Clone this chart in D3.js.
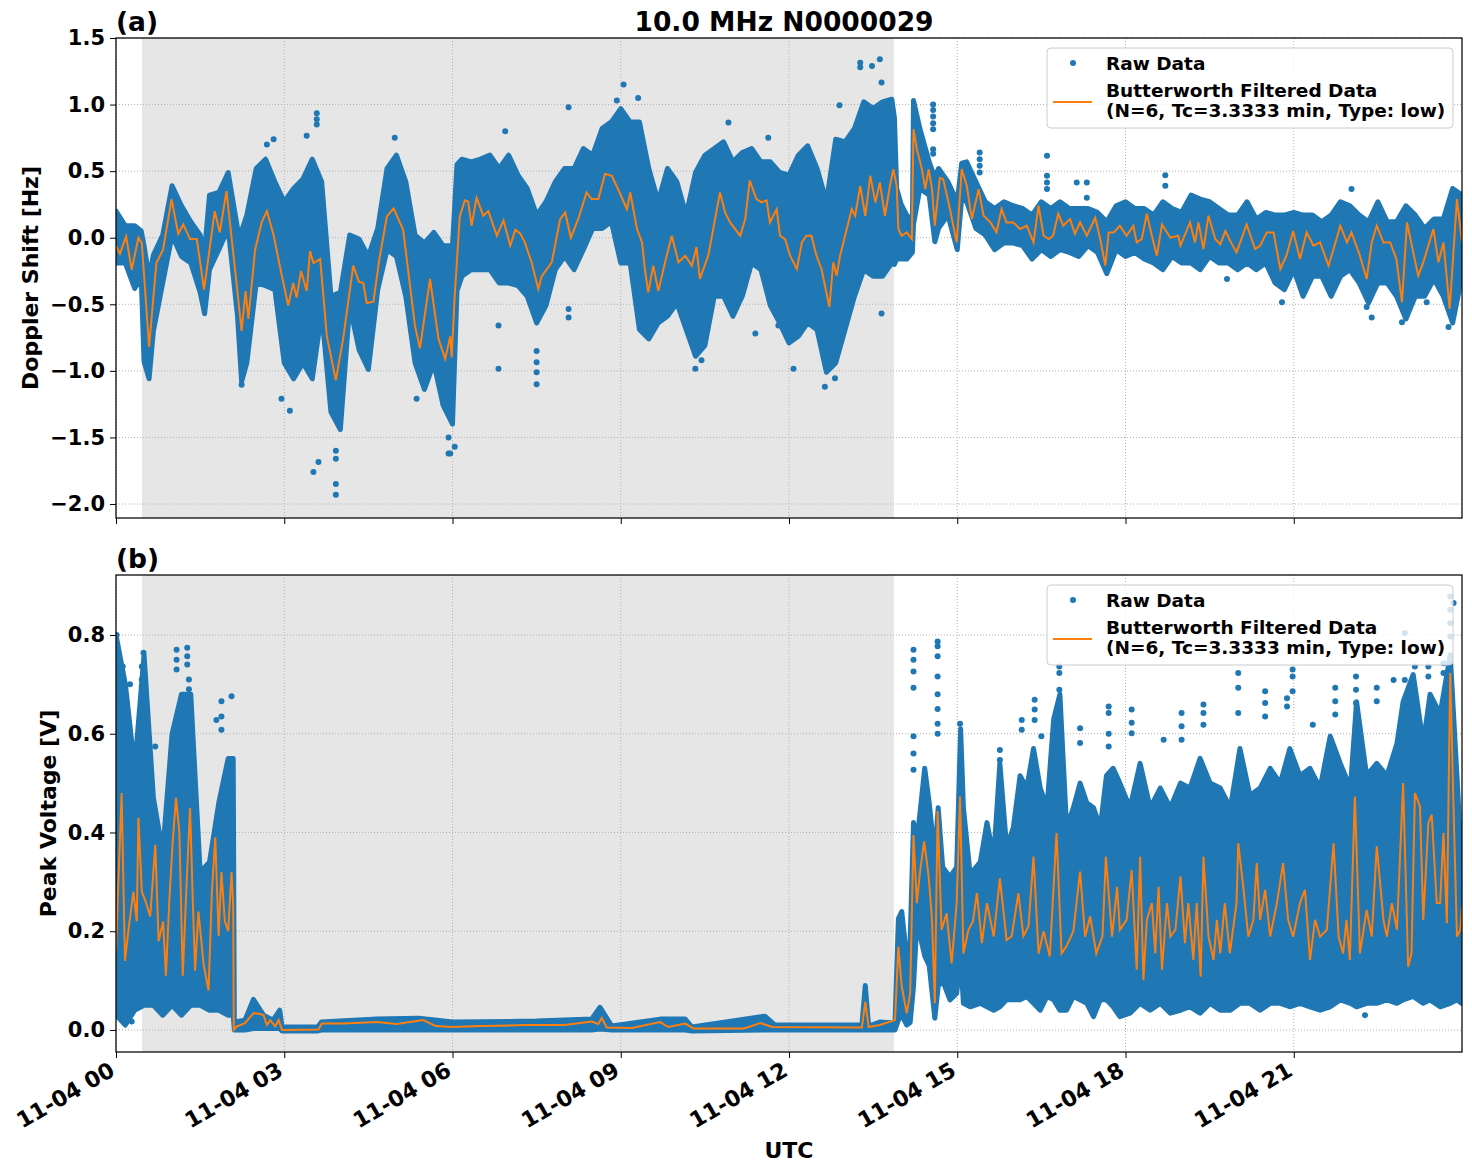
<!DOCTYPE html>
<html>
<head>
<meta charset="utf-8">
<script src="https://cdn.jsdelivr.net/npm/d3@7"></script>
<style>
body { margin: 0; background: #fff; }
text { font-family: "DejaVu Sans", sans-serif; font-weight: bold; }
</style>
</head>
<body>
<svg id="chart" width="1472" height="1172"></svg>
<script>
// ---- axis / labels ----
const tickHours = [0, 3, 6, 9, 12, 15, 18, 21];
const tickLabels = ["11-04 00", "11-04 03", "11-04 06", "11-04 09", "11-04 12", "11-04 15", "11-04 18", "11-04 21"];
const dopTicks = [-2.0, -1.5, -1.0, -0.5, 0.0, 0.5, 1.0, 1.5];
const voltTicks = [0.0, 0.2, 0.4, 0.6, 0.8];
const nightStart = 0.463, nightEnd = 13.87;   // shaded span (hours UTC)

// ---- (a) Doppler shift: Butterworth filtered line (hour, Hz) ----
const dopFiltT = [0.0,0.07,0.18,0.28,0.40,0.46,0.59,0.72,0.84,0.99,1.11,1.20,1.32,1.44,1.57,1.76,1.85,1.97,2.09,2.24,2.31,2.36,2.48,2.60,2.69,2.81,2.92,3.07,3.16,3.22,3.30,3.40,3.46,3.52,3.64,3.76,3.92,4.05,4.23,4.33,4.41,4.47,4.59,4.70,4.83,4.95,5.12,5.33,5.42,5.60,5.75,5.87,5.96,5.985,6.04,6.13,6.22,6.28,6.34,6.43,6.55,6.64,6.79,6.91,7.03,7.12,7.21,7.29,7.41,7.53,7.59,7.77,7.92,8.01,8.11,8.25,8.39,8.48,8.60,8.72,8.84,8.99,9.11,9.17,9.29,9.38,9.43,9.49,9.58,9.67,9.79,9.91,10.03,10.15,10.27,10.35,10.41,10.56,10.62,10.77,10.86,10.95,11.04,11.13,11.22,11.30,11.42,11.51,11.60,11.66,11.78,11.84,11.93,12.02,12.14,12.23,12.31,12.40,12.49,12.58,12.72,12.79,12.85,12.91,13.00,13.12,13.18,13.27,13.36,13.45,13.54,13.62,13.71,13.80,13.86,13.92,13.95,14.01,14.10,14.19,14.22,14.28,14.37,14.43,14.49,14.55,14.60,14.69,14.75,14.87,14.99,15.08,15.17,15.26,15.38,15.47,15.59,15.70,15.79,15.88,16.00,16.12,16.24,16.36,16.45,16.54,16.63,16.71,16.80,16.89,17.01,17.10,17.19,17.31,17.46,17.55,17.64,17.70,17.79,17.90,18.02,18.14,18.20,18.29,18.38,18.47,18.56,18.65,18.80,18.94,18.98,19.15,19.24,19.30,19.39,19.48,19.60,19.69,19.78,19.90,19.98,20.16,20.31,20.40,20.52,20.64,20.76,20.87,20.99,21.11,21.23,21.35,21.47,21.62,21.71,21.83,21.95,22.03,22.18,22.30,22.39,22.48,22.60,22.72,22.83,22.93,23.02,23.13,23.22,23.31,23.49,23.58,23.67,23.78,23.91,24.0];
const dopFilt = [-0.06,-0.12,0.01,-0.24,0.0,-0.04,-0.82,-0.19,-0.09,0.29,0.03,0.10,-0.01,-0.01,-0.39,0.20,0.04,0.35,-0.11,-0.70,-0.40,-0.61,-0.09,0.12,0.20,0.02,-0.21,-0.51,-0.34,-0.45,-0.25,-0.40,-0.10,-0.19,-0.16,-0.74,-1.07,-0.76,-0.21,-0.33,-0.34,-0.49,-0.48,-0.15,0.16,0.22,0.06,-0.66,-0.83,-0.31,-0.76,-0.91,-0.74,-0.90,-0.43,0.16,0.28,0.27,0.09,0.30,0.165,0.20,0.015,0.13,-0.06,0.06,0.03,-0.035,-0.185,-0.385,-0.29,-0.185,0.14,0.19,0.0,0.15,0.34,0.29,0.29,0.48,0.465,0.33,0.215,0.34,0.065,-0.035,-0.235,-0.41,-0.21,-0.40,-0.185,0.015,-0.185,-0.135,-0.21,-0.07,-0.31,-0.135,0.0,0.34,0.19,0.115,0.065,0.015,0.14,0.43,0.29,0.265,0.28,0.115,0.215,0.015,-0.01,-0.135,-0.235,-0.035,0.015,0.015,-0.135,-0.235,-0.52,-0.185,-0.285,-0.135,0.015,0.215,0.165,0.39,0.165,0.465,0.265,0.415,0.165,0.39,0.515,0.39,0.065,0.015,0.04,-0.01,0.815,0.665,0.515,0.365,0.515,0.365,0.09,0.45,0.44,0.215,-0.035,0.515,0.39,0.14,0.365,0.165,0.115,0.04,0.215,0.115,0.115,0.065,0.09,-0.035,0.24,0.015,-0.01,0.015,0.18,0.09,0.14,0.03,0.115,0.015,0.15,-0.01,-0.21,0.04,0.04,0.09,0.015,0.09,-0.035,-0.01,0.18,0.015,-0.135,0.10,0.0,0.015,-0.06,0.115,-0.035,0.115,-0.085,0.165,-0.01,-0.05,0.05,-0.05,-0.11,0.10,-0.085,-0.06,0.04,0.04,-0.235,-0.135,0.05,-0.16,0.04,-0.06,-0.035,-0.21,-0.085,0.09,-0.035,0.04,-0.135,-0.31,-0.035,0.09,-0.035,-0.035,-0.16,-0.485,0.115,-0.11,-0.285,-0.185,0.065,-0.185,-0.035,-0.535,0.29,-0.035];

// ---- (a) raw data spread: upper / lower edge of the dense dots ----
const dopBandT = [0.0,0.167,0.333,0.45,0.5,0.59,0.667,0.833,1.0,1.167,1.333,1.5,1.58,1.667,1.833,2.0,2.167,2.24,2.333,2.5,2.667,2.833,3.0,3.167,3.333,3.5,3.667,3.833,4.0,4.167,4.333,4.5,4.667,4.833,5.0,5.167,5.333,5.5,5.667,5.833,6.0,6.08,6.167,6.333,6.5,6.667,6.833,7.0,7.167,7.333,7.5,7.667,7.833,8.0,8.167,8.333,8.5,8.667,8.833,9.0,9.167,9.333,9.5,9.667,9.833,10.0,10.167,10.333,10.5,10.667,10.833,11.0,11.167,11.333,11.5,11.667,11.833,12.0,12.167,12.333,12.5,12.667,12.833,13.0,13.167,13.333,13.5,13.667,13.833,13.88,13.92,14.0,14.1,14.2,14.22,14.333,14.5,14.6,14.667,14.833,15.0,15.08,15.167,15.333,15.5,15.667,15.833,16.0,16.167,16.333,16.5,16.667,16.833,17.0,17.167,17.333,17.5,17.667,17.833,18.0,18.167,18.333,18.5,18.667,18.833,19.0,19.167,19.333,19.5,19.667,19.833,20.0,20.167,20.333,20.5,20.667,20.833,21.0,21.167,21.333,21.5,21.667,21.833,22.0,22.167,22.333,22.5,22.667,22.833,23.0,23.167,23.333,23.5,23.667,23.833,24.0];
const dopHi = [0.20,0.09,0.09,0.05,-0.06,-0.30,-0.13,0.02,0.39,0.24,0.12,0.02,-0.10,0.32,0.34,0.49,0.07,0.05,0.17,0.52,0.59,0.42,0.27,0.37,0.44,0.59,0.42,-0.44,-0.41,0.02,-0.01,-0.14,0.07,0.52,0.62,0.42,0.02,-0.04,0.04,-0.06,-0.06,0.55,0.59,0.57,0.59,0.62,0.52,0.62,0.47,0.37,0.17,0.27,0.42,0.52,0.52,0.67,0.62,0.82,0.87,0.97,0.87,0.87,0.52,0.27,0.52,0.42,0.17,0.49,0.62,0.67,0.72,0.57,0.64,0.67,0.57,0.57,0.49,0.47,0.62,0.69,0.52,0.27,0.74,0.72,0.82,1.02,0.97,1.02,1.04,0.90,0.37,0.25,0.17,0.12,1.03,0.82,0.57,0.45,0.52,0.42,0.27,0.56,0.57,0.42,0.27,0.22,0.27,0.24,0.22,0.17,0.27,0.22,0.27,0.22,0.22,0.22,0.19,0.12,0.24,0.27,0.22,0.22,0.17,0.27,0.22,0.19,0.32,0.29,0.27,0.22,0.17,0.17,0.27,0.14,0.19,0.17,0.17,0.19,0.17,0.17,0.12,0.17,0.27,0.24,0.17,0.12,0.27,0.12,0.12,0.24,0.17,0.07,0.14,0.14,0.37,0.32];
const dopLo = [-0.19,-0.19,-0.38,-0.30,-0.93,-1.06,-0.70,-0.34,0.02,-0.14,-0.19,-0.41,-0.57,-0.24,-0.09,0.07,-0.59,-1.08,-0.94,-0.34,-0.36,-0.39,-0.94,-1.06,-0.94,-1.06,-0.56,-1.31,-1.44,-0.51,-0.84,-0.99,-0.39,-0.09,-0.14,-0.44,-0.94,-1.14,-0.94,-1.26,-1.40,-0.40,-0.29,-0.24,-0.24,-0.24,-0.34,-0.34,-0.36,-0.44,-0.64,-0.51,-0.24,-0.14,-0.24,-0.09,0.07,0.07,0.12,-0.19,-0.19,-0.69,-0.76,-0.64,-0.59,-0.49,-0.69,-0.89,-0.81,-0.44,-0.44,-0.59,-0.44,-0.19,-0.24,-0.51,-0.64,-0.79,-0.74,-0.64,-0.69,-1.01,-0.94,-0.69,-0.44,-0.24,-0.29,-0.29,-0.19,-0.20,-0.16,-0.16,-0.16,-0.11,0.10,0.37,0.32,-0.03,0.07,0.17,-0.09,0.30,0.27,0.07,0.02,-0.09,-0.04,-0.04,-0.06,-0.16,-0.09,-0.14,-0.09,-0.11,-0.14,-0.06,-0.11,-0.27,-0.09,-0.14,-0.11,-0.16,-0.19,-0.24,-0.14,-0.19,-0.19,-0.24,-0.14,-0.19,-0.19,-0.24,-0.19,-0.24,-0.19,-0.34,-0.39,-0.24,-0.44,-0.29,-0.29,-0.44,-0.29,-0.24,-0.34,-0.49,-0.34,-0.34,-0.44,-0.61,-0.44,-0.44,-0.31,-0.44,-0.64,-0.29];

// ---- (a) isolated raw points ----
const dopOutT = [3.58,3.58,3.58,3.40,2.81,2.69,4.97,3.52,3.61,3.92,3.92,3.92,3.92,3.10,2.95,5.93,5.93,2.24,5.36,9.05,9.31,8.93,8.07,6.94,10.92,11.63,6.82,6.82,7.50,7.50,7.50,7.50,8.07,8.07,5.96,6.04,10.33,10.44,11.40,11.81,13.62,13.27,13.27,13.48,13.65,12.90,14.57,14.57,14.57,14.57,14.57,14.57,14.57,15.40,15.40,15.40,15.40,16.60,16.60,16.60,16.60,12.64,12.82,13.65,12.08,17.13,17.31,17.31,18.71,18.71,22.03,20.79,22.39,22.30,19.81,23.76,22.93,23.37];
const dopOutV = [0.935,0.89,0.85,0.765,0.74,0.70,0.75,-1.76,-1.685,-1.85,-1.93,-1.66,-1.60,-1.30,-1.21,-1.50,-1.62,-1.105,-1.21,1.15,1.05,1.03,0.98,0.80,0.865,0.75,-0.66,-0.985,-0.85,-0.935,-1.01,-1.10,-0.535,-0.60,-1.62,-1.57,-0.985,-0.92,-0.72,-0.66,1.34,1.315,1.28,1.29,1.165,0.995,1.0,0.96,0.91,0.86,0.815,0.665,0.63,0.64,0.59,0.54,0.49,0.615,0.465,0.415,0.365,-1.12,-1.055,-0.57,-0.985,0.415,0.415,0.30,0.47,0.39,0.365,-0.485,-0.60,-0.52,-0.31,-0.67,-0.635,-0.485];

// ---- (b) Peak voltage: Butterworth filtered line (hour, V) ----
const voltFiltT = [0.0,0.03,0.10,0.16,0.22,0.31,0.37,0.40,0.46,0.53,0.61,0.70,0.76,0.84,0.89,0.95,1.01,1.07,1.13,1.19,1.26,1.32,1.37,1.41,1.47,1.56,1.65,1.71,1.77,1.83,1.88,1.94,2.00,2.06,2.09,2.10,2.15,2.30,2.45,2.55,2.63,2.69,2.75,2.84,2.90,2.96,3.61,3.67,4.05,4.65,5.0,5.48,5.7,6.0,6.5,7.3,8.0,8.48,8.60,8.66,8.75,9.2,9.70,9.85,10.15,10.3,11.2,11.49,11.7,13.3,13.36,13.42,13.62,13.89,13.95,14.01,14.10,14.16,14.22,14.28,14.34,14.41,14.49,14.55,14.60,14.65,14.72,14.81,14.90,14.99,15.05,15.11,15.20,15.28,15.35,15.44,15.53,15.65,15.76,15.88,15.97,16.09,16.18,16.27,16.36,16.45,16.54,16.65,16.77,16.86,16.95,17.07,17.19,17.28,17.37,17.48,17.59,17.65,17.76,17.85,17.90,18.02,18.11,18.20,18.26,18.32,18.38,18.47,18.53,18.59,18.65,18.74,18.80,18.89,18.98,19.06,19.12,19.21,19.27,19.34,19.39,19.48,19.57,19.63,19.69,19.77,19.86,19.98,20.01,20.10,20.19,20.28,20.34,20.40,20.49,20.58,20.70,20.81,20.90,20.99,21.11,21.20,21.29,21.38,21.47,21.59,21.71,21.80,21.88,21.94,22.00,22.09,22.18,22.30,22.39,22.48,22.60,22.66,22.75,22.84,22.95,23.04,23.10,23.16,23.25,23.31,23.40,23.46,23.55,23.61,23.67,23.73,23.79,23.85,23.91,23.97,24.0];
const voltFilt = [0.16,0.26,0.48,0.14,0.20,0.28,0.22,0.43,0.28,0.26,0.23,0.375,0.18,0.22,0.11,0.26,0.38,0.47,0.40,0.11,0.30,0.45,0.26,0.12,0.24,0.135,0.08,0.28,0.39,0.19,0.32,0.22,0.20,0.32,0.25,0.0,0.007,0.014,0.034,0.033,0.030,0.01,0.02,0.007,0.02,0.0,0.001,0.013,0.013,0.016,0.012,0.02,0.008,0.006,0.008,0.01,0.01,0.017,0.012,0.024,0.005,0.004,0.016,0.006,0.013,0.003,0.003,0.014,0.006,0.005,0.057,0.006,0.01,0.02,0.169,0.088,0.034,0.074,0.395,0.257,0.324,0.382,0.311,0.223,0.054,0.443,0.203,0.236,0.135,0.257,0.473,0.155,0.203,0.22,0.277,0.176,0.257,0.189,0.307,0.182,0.19,0.277,0.19,0.21,0.351,0.155,0.2,0.149,0.399,0.155,0.17,0.2,0.321,0.189,0.23,0.155,0.19,0.351,0.189,0.29,0.203,0.223,0.324,0.122,0.351,0.101,0.223,0.257,0.155,0.29,0.122,0.257,0.189,0.203,0.311,0.176,0.257,0.142,0.257,0.108,0.351,0.189,0.142,0.223,0.155,0.257,0.155,0.257,0.378,0.29,0.189,0.223,0.338,0.223,0.284,0.189,0.257,0.338,0.223,0.189,0.257,0.284,0.142,0.223,0.189,0.203,0.378,0.189,0.155,0.223,0.142,0.473,0.155,0.243,0.189,0.372,0.223,0.189,0.257,0.203,0.50,0.128,0.155,0.48,0.453,0.223,0.419,0.436,0.257,0.257,0.399,0.216,0.723,0.446,0.189,0.203,0.25];

// ---- (b) raw data spread ----
const voltBandT = [0.0,0.167,0.333,0.5,0.667,0.833,1.0,1.167,1.333,1.5,1.667,1.833,2.0,2.09,2.11,2.30,2.45,2.63,2.80,2.92,2.96,3.60,3.66,4.65,5.40,6.0,7.5,8.48,8.63,8.84,9.70,10.15,10.27,11.57,11.75,13.30,13.36,13.42,13.62,13.89,13.95,14.01,14.10,14.16,14.22,14.28,14.42,14.50,14.60,14.66,14.74,14.87,14.99,15.06,15.11,15.23,15.41,15.53,15.65,15.76,15.88,16.0,16.12,16.24,16.36,16.48,16.60,16.72,16.83,16.95,17.07,17.19,17.31,17.43,17.55,17.66,17.78,17.90,18.08,18.26,18.44,18.62,18.80,18.98,19.15,19.33,19.51,19.69,19.87,20.04,20.22,20.40,20.58,20.76,20.93,21.11,21.29,21.47,21.65,21.83,22.01,22.12,22.30,22.48,22.66,22.84,22.95,23.13,23.31,23.43,23.61,23.79,23.91,23.99];
const voltHi = [0.80,0.70,0.53,0.76,0.47,0.36,0.60,0.68,0.68,0.32,0.34,0.46,0.55,0.55,0.016,0.02,0.062,0.03,0.02,0.04,0.006,0.006,0.016,0.022,0.024,0.016,0.018,0.022,0.046,0.008,0.022,0.022,0.006,0.028,0.01,0.01,0.09,0.008,0.016,0.014,0.225,0.24,0.145,0.18,0.42,0.38,0.53,0.46,0.35,0.45,0.33,0.31,0.33,0.61,0.45,0.315,0.34,0.42,0.35,0.54,0.37,0.41,0.515,0.49,0.57,0.49,0.45,0.63,0.68,0.41,0.45,0.50,0.46,0.45,0.41,0.515,0.53,0.50,0.45,0.54,0.45,0.49,0.45,0.50,0.49,0.55,0.50,0.49,0.45,0.57,0.475,0.49,0.53,0.50,0.57,0.515,0.53,0.49,0.595,0.54,0.49,0.665,0.515,0.54,0.515,0.58,0.665,0.72,0.58,0.68,0.64,0.76,0.515,0.34];
const voltLo = [0.03,0.01,0.04,0.05,0.05,0.03,0.05,0.03,0.05,0.05,0.04,0.04,0.03,0.03,0.0,0.0,0.003,0.003,0.003,0.003,-0.002,-0.002,0.0,0.0,0.0,0.0,0.0,0.0,0.002,0.0,0.0,0.0,-0.002,0.0,0.0,0.0,0.0,0.0,0.0,0.0,0.02,0.03,0.01,0.015,0.088,0.22,0.15,0.13,0.024,0.088,0.10,0.061,0.074,0.149,0.054,0.047,0.054,0.047,0.04,0.047,0.061,0.061,0.061,0.068,0.054,0.04,0.068,0.061,0.04,0.04,0.068,0.061,0.054,0.027,0.061,0.061,0.047,0.027,0.034,0.054,0.04,0.054,0.034,0.04,0.047,0.034,0.054,0.04,0.04,0.054,0.054,0.04,0.054,0.054,0.047,0.054,0.047,0.04,0.047,0.061,0.054,0.047,0.054,0.054,0.061,0.054,0.061,0.068,0.054,0.061,0.047,0.054,0.061,0.054];

// ---- (b) isolated raw points ----
const voltOutT = [0.49,0.46,0.46,0.46,1.08,1.08,1.08,1.27,1.27,1.27,1.30,1.30,2.06,1.88,1.88,1.88,1.79,0.70,0.61,0.12,0.12,0.12,0.25,0.01,0.28,14.22,14.22,14.22,14.22,14.22,14.22,14.22,14.65,14.65,14.65,14.65,14.65,14.65,14.65,14.65,15.05,16.38,16.38,16.38,16.15,16.15,16.82,16.82,16.82,17.70,17.70,17.70,17.70,17.19,17.19,15.76,15.76,16.50,18.11,18.11,18.11,18.68,19.00,19.00,19.00,19.39,19.39,19.39,20.01,20.01,20.01,20.49,20.49,20.49,20.88,20.88,20.98,20.98,20.98,21.34,21.74,21.74,21.74,22.11,22.11,22.11,22.48,22.48,22.78,22.98,22.98,23.16,23.40,23.40,23.67,23.67,23.79,23.79,23.79,23.79,23.85,22.27];
const voltOutV = [0.764,0.736,0.71,0.696,0.77,0.75,0.73,0.774,0.757,0.74,0.71,0.69,0.676,0.666,0.635,0.608,0.628,0.574,0.52,0.736,0.71,0.676,0.70,0.80,0.017,0.77,0.75,0.726,0.693,0.595,0.56,0.527,0.787,0.777,0.757,0.716,0.68,0.65,0.62,0.60,0.62,0.669,0.649,0.628,0.628,0.608,0.736,0.723,0.689,0.655,0.642,0.60,0.574,0.611,0.581,0.567,0.547,0.595,0.649,0.622,0.601,0.588,0.642,0.615,0.588,0.659,0.642,0.618,0.723,0.693,0.642,0.686,0.662,0.635,0.672,0.655,0.73,0.716,0.686,0.618,0.693,0.666,0.639,0.716,0.689,0.662,0.693,0.666,0.709,0.804,0.709,0.736,0.736,0.716,0.743,0.723,0.878,0.851,0.824,0.797,0.865,0.03];

const blue = "#1f77b4", orange = "#ff7f0e";
const svg = d3.select("#chart");
const left = 116, right = 1462;
const x = d3.scaleLinear().domain([0, 24]).range([left, right]);

svg.append("text")
    .attr("x", 784).attr("y", 31)
    .attr("text-anchor", "middle")
    .attr("font-size", 26.5)
    .text("10.0 MHz N0000029");

function drawPanel(p) {
    const y = d3.scaleLinear().domain(p.yDomain).range([p.bottom, p.top]);
    const h = p.bottom - p.top;

    svg.append("clipPath").attr("id", "clip-" + p.name)
        .append("rect").attr("x", left).attr("y", p.top)
        .attr("width", right - left).attr("height", h);

    const g = svg.append("g");

    // night shading
    g.append("rect")
        .attr("x", x(nightStart)).attr("y", p.top)
        .attr("width", x(nightEnd) - x(nightStart)).attr("height", h)
        .attr("fill", "#e6e6e6");

    // dotted grid
    g.append("g").selectAll("line").data(tickHours).join("line")
        .attr("x1", d => x(d)).attr("x2", d => x(d))
        .attr("y1", p.top).attr("y2", p.bottom)
        .attr("stroke", "#b0b0b0").attr("stroke-dasharray", "1,2");
    g.append("g").selectAll("line").data(p.yTicks).join("line")
        .attr("x1", left).attr("x2", right)
        .attr("y1", d => y(d)).attr("y2", d => y(d))
        .attr("stroke", "#b0b0b0").attr("stroke-dasharray", "1,2");

    const data = g.append("g").attr("clip-path", `url(#clip-${p.name})`);

    // raw data: dense spread + isolated points
    const band = p.bandT.map((t, i) => ({ t: t, hi: p.hi[i], lo: p.lo[i] }));
    data.append("path")
        .datum(band)
        .attr("d", d3.area().x(d => x(d.t)).y0(d => y(d.lo)).y1(d => y(d.hi)))
        .attr("fill", blue).attr("stroke", blue)
        .attr("stroke-width", 5).attr("stroke-linejoin", "round");

    data.append("g").selectAll("circle")
        .data(p.outT.map((t, i) => [t, p.outV[i]]))
        .join("circle")
        .attr("cx", d => x(d[0])).attr("cy", d => y(d[1]))
        .attr("r", 3).attr("fill", blue);

    // filtered line
    data.append("path")
        .datum(p.filtT.map((t, i) => [t, p.filt[i]]))
        .attr("d", d3.line().x(d => x(d[0])).y(d => y(d[1])))
        .attr("fill", "none").attr("stroke", orange).attr("stroke-width", 2);

    // axes
    const yAxis = g.append("g")
        .attr("transform", `translate(${left},0)`)
        .call(d3.axisLeft(y).tickValues(p.yTicks).tickFormat(p.fmt).tickSize(6).tickPadding(5));
    yAxis.select(".domain").remove();
    yAxis.selectAll("text").attr("font-size", 21).attr("fill", "#000");

    const xAxis = g.append("g")
        .attr("transform", `translate(0,${p.bottom})`)
        .call(d3.axisBottom(x).tickValues(tickHours)
            .tickFormat((d, i) => p.showX ? tickLabels[i] : "").tickSize(6));
    xAxis.select(".domain").remove();
    xAxis.selectAll("text")
        .attr("font-size", 22).attr("fill", "#000")
        .attr("text-anchor", "end")
        .attr("y", 0).attr("dy", "0.71em")
        .attr("transform", "translate(-8,9) rotate(-30)");

    // frame
    g.append("rect")
        .attr("x", left).attr("y", p.top)
        .attr("width", right - left).attr("height", h)
        .attr("fill", "none").attr("stroke", "#000").attr("stroke-width", 1.25);

    // labels
    g.append("text")
        .attr("transform", `translate(${p.ylabelX},${(p.top + p.bottom) / 2}) rotate(-90)`)
        .attr("text-anchor", "middle").attr("dy", "0.35em")
        .attr("font-size", 22)
        .text(p.ylabel);
    g.append("text")
        .attr("x", left).attr("y", p.top - 7)
        .attr("font-size", 26.5)
        .text(p.tag);

    // legend
    const lg = g.append("g").attr("transform", `translate(1047,${p.top + 10})`);
    lg.append("rect")
        .attr("width", 406).attr("height", 80).attr("rx", 4)
        .attr("fill", "#fff").attr("fill-opacity", 0.8)
        .attr("stroke", "#cccccc");
    lg.append("circle").attr("cx", 26).attr("cy", 15).attr("r", 3).attr("fill", blue);
    lg.append("line").attr("x1", 6).attr("x2", 45).attr("y1", 54).attr("y2", 54)
        .attr("stroke", orange).attr("stroke-width", 2);
    lg.append("text").attr("x", 59).attr("y", 22).attr("font-size", 18.5).text("Raw Data");
    lg.append("text").attr("x", 59).attr("y", 49).attr("font-size", 18.5).text("Butterworth Filtered Data");
    lg.append("text").attr("x", 59).attr("y", 69).attr("font-size", 18.5).text("(N=6, Tc=3.3333 min, Type: low)");
}

drawPanel({
    name: "dop", top: 38, bottom: 518, yDomain: [-2.105, 1.5],
    yTicks: dopTicks, fmt: d3.format(".1f"),
    ylabel: "Doppler Shift [Hz]", ylabelX: 30, tag: "(a)", showX: false,
    filtT: dopFiltT, filt: dopFilt, bandT: dopBandT, hi: dopHi, lo: dopLo,
    outT: dopOutT, outV: dopOutV
});

drawPanel({
    name: "volt", top: 575, bottom: 1052, yDomain: [-0.0446, 0.9215],
    yTicks: voltTicks, fmt: d3.format(".1f"),
    ylabel: "Peak Voltage [V]", ylabelX: 48, tag: "(b)", showX: true,
    filtT: voltFiltT, filt: voltFilt, bandT: voltBandT, hi: voltHi, lo: voltLo,
    outT: voltOutT, outV: voltOutV
});

svg.append("text")
    .attr("x", (left + right) / 2).attr("y", 1158)
    .attr("text-anchor", "middle")
    .attr("font-size", 22)
    .text("UTC");
</script>
</body>
</html>
